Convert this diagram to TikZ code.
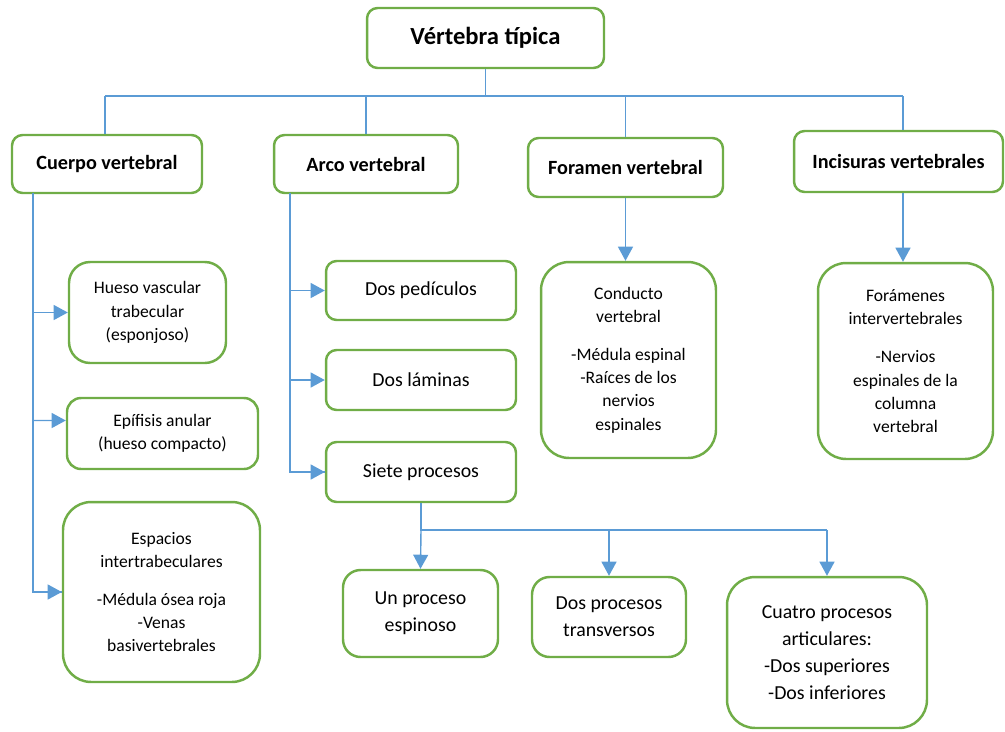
\documentclass[tikz,border=0pt]{standalone}
\usepackage{fontspec}
\setmainfont{Carlito}
\usepackage{tikz}
\usetikzlibrary{arrows.meta, positioning}
\definecolor{boxgreen}{HTML}{70AD47}
\definecolor{linkblue}{HTML}{5B9BD5}

\begin{document}
\begin{tikzpicture}[
  x=0.02cm, y=-0.02cm,
  box/.style = {draw=boxgreen, line width=1.4pt, rounded corners=6pt, align=center,
                inner sep=2pt, fill=white},
  title/.style = {box, font=\fontsize{14}{16}\selectfont\bfseries},
  head/.style = {box, font=\fontsize{11.5}{14}\selectfont\bfseries},
  item/.style = {box, font=\fontsize{11.3}{15.5}\selectfont},
  note/.style = {box, font=\fontsize{10}{13.2}\selectfont},
  link/.style = {draw=linkblue, line width=0.8pt},
  arrow/.style = {link, -{Triangle[length=8pt, width=8.5pt, fill=linkblue]}}
]
  \useasboundingbox (0,0) rectangle (1005,731);

  % level 0 and 1
  \node[title, minimum width=4.74cm, minimum height=1.2cm]  (top)     at (485.5,38)  {Vértebra típica};
  \node[head, minimum width=3.8cm,  minimum height=1.16cm]  (cuerpo)  at (107,164)   {Cuerpo vertebral};
  \node[head, minimum width=3.68cm, minimum height=1.16cm]  (arco)    at (366,164)   {Arco vertebral};
  \node[head, minimum width=3.9cm,  minimum height=1.18cm]  (foramen) at (625.5,167.5) {Foramen vertebral};
  \node[head, minimum width=4.18cm, minimum height=1.22cm]  (incis)   at (898.5,161.5) {Incisuras vertebrales};

  % cuerpo vertebral
  \node[note, minimum width=3.14cm, minimum height=2.02cm, rounded corners=12pt] (hueso) at (147.5,312.5)
       {Hueso vascular\\trabecular\\(esponjoso)};
  \node[note, minimum width=3.82cm, minimum height=1.42cm, rounded corners=8pt] (epif) at (162.5,433.5)
       {Epífisis anular\\(hueso compacto)};
  \node[note, minimum width=3.94cm, minimum height=3.6cm, rounded corners=16pt] (espacios) at (161.5,592)
       {Espacios\\intertrabeculares\\[8.5pt]-Médula ósea roja\\-Venas\\basivertebrales};

  % arco vertebral
  \node[item, minimum width=3.8cm, minimum height=1.18cm] (pedic)   at (421,290.5) {Dos pedículos};
  \node[item, minimum width=3.8cm, minimum height=1.2cm]  (laminas) at (421,380)   {Dos láminas};
  \node[item, minimum width=3.8cm, minimum height=1.2cm]  (siete)   at (421,472)   {Siete procesos};

  % foramen e incisuras
  \node[note, minimum width=3.5cm, minimum height=3.92cm, rounded corners=16pt] (conducto) at (628.5,360)
       {Conducto\\vertebral\\[8.5pt]-Médula espinal\\-Raíces de los\\nervios\\espinales};
  \node[note, minimum width=3.5cm, minimum height=3.92cm, rounded corners=16pt] (foramenes) at (905.5,361)
       {Forámenes\\intervertebrales\\[8.5pt]-Nervios\\espinales de la\\columna\\vertebral};

  % siete procesos
  \node[item, minimum width=3.1cm,  minimum height=1.74cm, rounded corners=10pt] (unproc)  at (420.5,613.5)
       {Un proceso\\espinoso};
  \node[item, minimum width=3.08cm, minimum height=1.6cm,  rounded corners=10pt] (dosproc) at (609,617)
       {Dos procesos\\transversos};
  \node[item, minimum width=4.0cm,  minimum height=3.02cm, rounded corners=16pt] (cuatro)  at (827,652.5)
       {Cuatro procesos\\articulares:\\-Dos superiores\\-Dos inferiores};

  % connectors
  \coordinate (busL) at (105,96);
  \coordinate (busR) at (903,96);
  \coordinate (railC) at (33,193);
  \coordinate (railA) at (290,193);
  \coordinate (fork) at (421,530);

  \draw[link] (top.south) -- (top.south |- busL);
  \draw[link] (busL) -- (busR);
  \draw[link] (busL) -- (busL |- cuerpo.north);
  \draw[link] (arco.north |- busL) -- (arco.north);
  \draw[link] (foramen.north |- busL) -- (foramen.north);
  \draw[link] (busR) -- (busR |- incis.north);

  \draw[link] (railC) |- (espacios.west);
  \draw[arrow] (railC |- hueso.west) -- (hueso.west);
  \draw[arrow] (railC |- epif.west) ++(0,-13) -- ([yshift=0.26cm]epif.west);
  \draw[arrow] (railC |- espacios.west) -- (espacios.west);

  \draw[link] (railA) |- (siete.west);
  \draw[arrow] (railA |- pedic.west) -- (pedic.west);
  \draw[arrow] (railA |- laminas.west) -- (laminas.west);
  \draw[arrow] (railA |- siete.west) -- (siete.west);

  \draw[arrow] (foramen.south) -- (foramen.south |- conducto.north);
  \draw[arrow] (busR |- incis.south) -- (busR |- foramenes.north);

  \draw[link] (siete.south) -- (fork) -- (fork -| cuatro.north);
  \draw[arrow] (fork) -- (unproc.north);
  \draw[arrow] (fork -| dosproc.north) -- (dosproc.north);
  \draw[arrow] (fork -| cuatro.north) -- (cuatro.north);
\end{tikzpicture}
\end{document}
